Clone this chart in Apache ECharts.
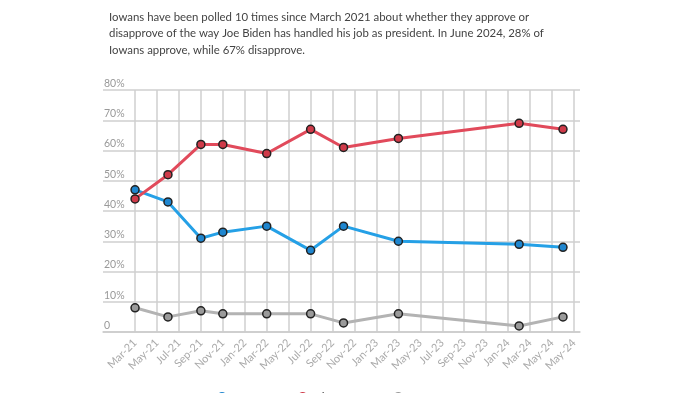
<!DOCTYPE html>
<html>
<head>
<meta charset="utf-8">
<style>
  html, body { margin: 0; padding: 0; background: #fff; }
  #chart { width: 700px; height: 393px; }
</style>
<script src="https://cdn.jsdelivr.net/npm/echarts@6/dist/echarts.min.js"></script>
</head>
<body>
<div id="chart"></div>
<script>
// Poll dates (months since Mar-21) and values
const pollLabels = ['Mar-21', 'Jun-21', 'Sep-21', 'Nov-21', 'Mar-22', 'Jul-22', 'Oct-22', 'Mar-23', 'Feb-24', 'Jun-24'];
const pollMonths = [0, 3, 6, 8, 12, 16, 19, 24, 35, 39];
const approve    = [47, 43, 31, 33, 35, 27, 35, 30, 29, 28];
const disapprove = [44, 52, 62, 62, 59, 67, 61, 64, 69, 67];
const notSure    = [8, 5, 7, 6, 6, 6, 3, 6, 2, 5];

// X tick labels (as shown in the chart) and their month positions
const tickLabels = ['Mar-21', 'May-21', 'Jul-21', 'Sep-21', 'Nov-21', 'Jan-22', 'Mar-22', 'May-22', 'Jul-22', 'Sep-22', 'Nov-22', 'Jan-23', 'Mar-23', 'May-23', 'Jul-23', 'Sep-23', 'Nov-23', 'Jan-24', 'Mar-24', 'May-24', 'May-24'];
const tickMonths = [0, 2, 4, 6, 8, 10, 12, 14, 16, 18, 20, 22, 24, 26, 28, 30, 32, 34, 36, 38, 40];

const introText = 'Iowans have been polled 10 times since March 2021 about whether they approve or\ndisapprove of the way Joe Biden has handled his job as president. In June 2024, 28% of\nIowans approve, while 67% disapprove.';

function pairs(vals) { return pollMonths.map((m, i) => [m, vals[i]]); }

const chart = echarts.init(document.getElementById('chart'), null, { renderer: 'canvas' });

const lineSeries = (name, vals, lineColor, dotColor) => ({
  name: name,
  type: 'line',
  data: pairs(vals),
  symbol: 'circle',
  symbolSize: 8,
  showAllSymbol: true,
  lineStyle: { color: lineColor, width: 3 },
  itemStyle: { color: dotColor, borderColor: '#222', borderWidth: 1.5 },
  emphasis: { disabled: true },
  animation: false
});

chart.setOption({
  animation: false,
  textStyle: { fontFamily: 'Lato, "Open Sans", sans-serif' },
  title: {
    text: introText,
    left: 104,
    top: 4,
    textStyle: {
      fontSize: 11.4,
      fontWeight: 'normal',
      color: '#444',
      lineHeight: 16.5,
      fontFamily: 'Lato, "Open Sans", sans-serif'
    }
  },
  legend: {
    left: 217,
    top: 391,
    padding: 0,
    icon: 'circle',
    itemWidth: 10,
    itemHeight: 10,
    itemGap: 21,
    itemStyle: { borderWidth: 0 },
    textStyle: { fontSize: 12, color: '#555' },
    data: ['Approve', 'Disapprove', 'Not sure']
  },
  grid: {
    left: 103,
    right: 120,
    top: 90,
    bottom: 61,
    containLabel: false,
    outerBoundsMode: 'none'
  },
  xAxis: {
    type: 'value',
    min: -2.92,
    max: 40.55,
    axisLine: { show: true, lineStyle: { color: '#ccc', width: 1.5 } },
    axisTick: { show: false, customValues: tickMonths },
    splitLine: { show: true, lineStyle: { color: '#cfcfcf', width: 1.5 } },
    axisLabel: {
      customValues: tickMonths,
      rotate: 45,
      margin: 9,
      fontSize: 11,
      color: '#aaa',
      formatter: function (v) {
        const i = tickMonths.indexOf(v);
        return i >= 0 ? tickLabels[i] : '';
      }
    }
  },
  yAxis: {
    type: 'value',
    min: 0,
    max: 80,
    interval: 10,
    axisLine: { show: false },
    axisTick: { show: false },
    splitLine: { show: true, lineStyle: { color: '#cfcfcf', width: 1.5 } },
    axisLabel: {
      inside: true,
      margin: 1,
      align: 'left',
      verticalAlign: 'bottom',
      padding: [0, 0, 1, 0],
      fontSize: 10.5,
      color: '#999',
      formatter: function (v) { return v === 0 ? '0' : v + '%'; }
    }
  },
  series: [
    lineSeries('Approve', approve, '#25a0e6', '#1f86cf'),
    lineSeries('Disapprove', disapprove, '#e14a5b', '#cf3a49'),
    lineSeries('Not sure', notSure, '#b3b3b3', '#9a9a9a')
  ]
});
</script>
</body>
</html>
